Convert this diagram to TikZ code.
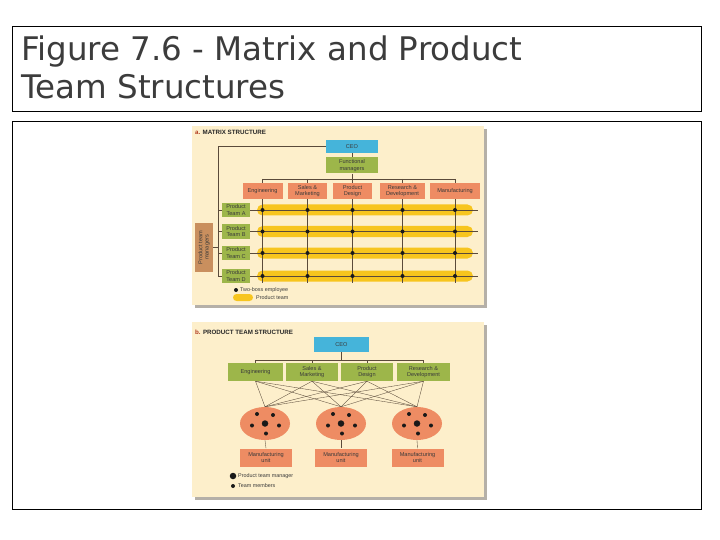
\documentclass[tikz,border=0pt]{standalone}
\usepackage{fontspec}
\setmainfont{Liberation Sans}
\newfontfamily\titlefont{DejaVu Sans}
\usetikzlibrary{shapes.geometric}
\definecolor{panelbg}{HTML}{FDEFCB}
\definecolor{shadowc}{HTML}{B5B0A8}
\definecolor{ceoblue}{HTML}{45B4DA}
\definecolor{olive}{HTML}{9DB64A}
\definecolor{salmon}{HTML}{EE8C63}
\definecolor{tanc}{HTML}{C98F5E}
\definecolor{bary}{HTML}{F7C51E}
\definecolor{linec}{HTML}{5A4A3A}
\definecolor{titlec}{HTML}{3C3C3C}
\definecolor{headred}{HTML}{B03A20}
\definecolor{boxtext}{HTML}{3A3A3A}
\tikzset{
  frame/.style={draw=black, line width=0.8pt},
  bx/.style={inner sep=0pt, align=center, text=boxtext, font=\fontsize{5.6}{6.2}\selectfont},
  bluebox/.style={bx, fill=ceoblue},
  greenbox/.style={bx, fill=olive},
  salbox/.style={bx, fill=salmon},
  conn/.style={draw=linec, line width=0.5pt},
  thinconn/.style={draw=linec, line width=0.35pt},
  heading/.style={anchor=west, inner sep=0pt, font=\bfseries\fontsize{6.2}{7}\selectfont, text=black!85},
  legend/.style={anchor=west, inner sep=0pt, font=\fontsize{5.4}{6}\selectfont, text=boxtext},
  dotS/.style={circle, fill=black!90, inner sep=0pt, minimum size=4pt},
  dotB/.style={circle, fill=black!90, inner sep=0pt, minimum size=6.5pt},
  unit/.style={ellipse, fill=salmon, inner sep=0pt, minimum width=50pt, minimum height=33pt}
}
\begin{document}
\begin{tikzpicture}[x=1pt,y=-1pt]
\useasboundingbox (0,0) rectangle (720,540);
\fill[white] (0,0) rectangle (720,540);
% outer frames
\draw[frame] (12,26) rectangle (701,111);
\draw[frame] (12,121) rectangle (701,509);
\node[anchor=north west, inner sep=0pt, align=left, text=titlec,
      font=\titlefont\fontsize{32.5}{38}\selectfont] (title) at (21,36)
  {Figure 7.6 - Matrix and Product\\Team Structures};

% ===== Panel a =====
\fill[shadowc] (195,129) rectangle (487,308);
\fill[panelbg] (192,126) rectangle (484,305);
\node[heading] (ha) at (195,132.5) {\textcolor{headred}{a.} MATRIX STRUCTURE};

\node[bluebox, minimum width=52pt, minimum height=13pt] (ceoA) at (352,146.5) {CEO};
\node[greenbox, minimum width=52pt, minimum height=16pt] (fmA) at (352,165.5) {Functional\\managers};

\node[salbox, minimum width=40pt, minimum height=16pt] (eng) at (262.5,191) {Engineering};
\node[salbox, minimum width=39pt, minimum height=16pt] (sal) at (307.5,191) {Sales \&\\Marketing};
\node[salbox, minimum width=39pt, minimum height=16pt] (pd) at (352.5,191) {Product\\Design};
\node[salbox, minimum width=45pt, minimum height=16pt] (rd) at (402.5,191) {Research \&\\Development};
\node[salbox, minimum width=50pt, minimum height=16pt] (mf) at (455,191) {Manufacturing};

\node[greenbox, minimum width=28pt, minimum height=14pt] (tA) at (236,210) {Product\\Team A};
\node[greenbox, minimum width=28pt, minimum height=14pt] (tB) at (236,231.5) {Product\\Team B};
\node[greenbox, minimum width=28pt, minimum height=14pt] (tC) at (236,253) {Product\\Team C};
\node[greenbox, minimum width=28pt, minimum height=14pt] (tD) at (236,276) {Product\\Team D};

\node[bx, fill=tanc, minimum width=18pt, minimum height=49pt] (mgr) at (204,247.5) {};
\node[bx, rotate=90] (mgrtext) at (mgr.center) {Product team\\managers};

% connectors top
\coordinate (lt) at (218,146.5);
\coordinate (hb) at (352,179);
\coordinate (vend) at (0,283);
\coordinate (rend) at (478,0);
\draw[conn] (ceoA.south) -- (fmA.north);
\draw[conn] (fmA.south) -- (hb);
\draw[conn] (eng.north |- hb) -- (mf.north |- hb);
\foreach \b in {eng,sal,pd,rd,mf} \draw[conn] (\b.north |- hb) -- (\b.north);
\draw[conn] (ceoA.west) -- (lt) |- (tD.west);
\foreach \t in {tA,tB,tC} \draw[conn] (lt |- \t.west) -- (\t.west);
\draw[conn] (mgr.east) -- (lt |- mgr.east);

% bars
\foreach \t in {tA,tB,tC,tD} {
  \fill[bary, rounded corners=5.5pt] ([yshift=5.5pt]\t.east -| 257,0) rectangle ([yshift=-5.5pt]\t.east -| 473,0);
}
\foreach \b in {eng,sal,pd,rd,mf} \draw[conn] (\b.south) -- (\b.south |- vend);
\foreach \t in {tA,tB,tC,tD} {
  \draw[conn] (\t.east) -- (\t.east -| rend);
  \foreach \b in {eng,sal,pd,rd,mf} \node[dotS] at (\b.south |- \t.east) {};
}
% legend a
\node[dotS, minimum size=4pt] (lgd1) at (236,290) {};
\node[legend] (lgt1) at (240,290) {Two-boss employee};
\fill[bary, rounded corners=3.5pt] (233,294) rectangle (253,301);
\node[legend] (lgt2) at (256,297.5) {Product team};

% ===== Panel b =====
\fill[shadowc] (195,325) rectangle (487,500);
\fill[panelbg] (192,322) rectangle (484,497);
\node[heading] (hb2) at (195,332) {\textcolor{headred}{b.} PRODUCT TEAM STRUCTURE};

\node[bluebox, minimum width=55pt, minimum height=15pt] (ceoB) at (341.5,344.5) {CEO};
\node[greenbox, minimum width=55pt, minimum height=18pt] (e2) at (255.5,372) {Engineering};
\node[greenbox, minimum width=52pt, minimum height=18pt] (s2) at (312,372) {Sales \&\\Marketing};
\node[greenbox, minimum width=52pt, minimum height=18pt] (p2) at (367,372) {Product\\Design};
\node[greenbox, minimum width=53pt, minimum height=18pt] (r2) at (423.5,372) {Research \&\\Development};

\coordinate (hb3) at (341.5,360);
\draw[conn] (ceoB.south) -- (hb3);
\draw[conn] (e2.north |- hb3) -- (r2.north |- hb3);
\foreach \b in {e2,s2,p2,r2} \draw[conn] (\b.north |- hb3) -- (\b.north);

\node[unit] (u1) at (265,423.5) {};
\node[unit] (u2) at (341,423.5) {};
\node[unit] (u3) at (417,423.5) {};

\foreach \b in {e2,s2,p2,r2}
  \foreach \u in {u1,u2,u3}
    \draw[thinconn] (\b.south) -- (\u.north);

\foreach \u in {u1,u2,u3} {
  \node[dotB] at (\u.center) {};
  \node[dotS] at ([shift={(-8,-9.5)}]\u.center) {};
  \node[dotS] at ([shift={(8,-8.5)}]\u.center) {};
  \node[dotS] at ([shift={(-13,2)}]\u.center) {};
  \node[dotS] at ([shift={(14,2)}]\u.center) {};
  \node[dotS] at ([shift={(1,10)}]\u.center) {};
}

\node[salbox, minimum width=52pt, minimum height=18pt] (m1) at (266,457.5) {Manufacturing\\unit};
\node[salbox, minimum width=52pt, minimum height=18pt] (m2) at (341,457.5) {Manufacturing\\unit};
\node[salbox, minimum width=52pt, minimum height=18pt] (m3) at (417.5,457.5) {Manufacturing\\unit};
\draw[thinconn] (u1.south) -- (m1.north);
\draw[thinconn] (u2.south) -- (m2.north);
\draw[thinconn] (u3.south) -- (m3.north);

\node[dotB] (lgb1) at (233,476) {};
\node[legend] (lgbt1) at (238,476) {Product team manager};
\node[dotS] (lgb2) at (233,486) {};
\node[legend] (lgbt2) at (238,486) {Team members};
\end{tikzpicture}
\end{document}
